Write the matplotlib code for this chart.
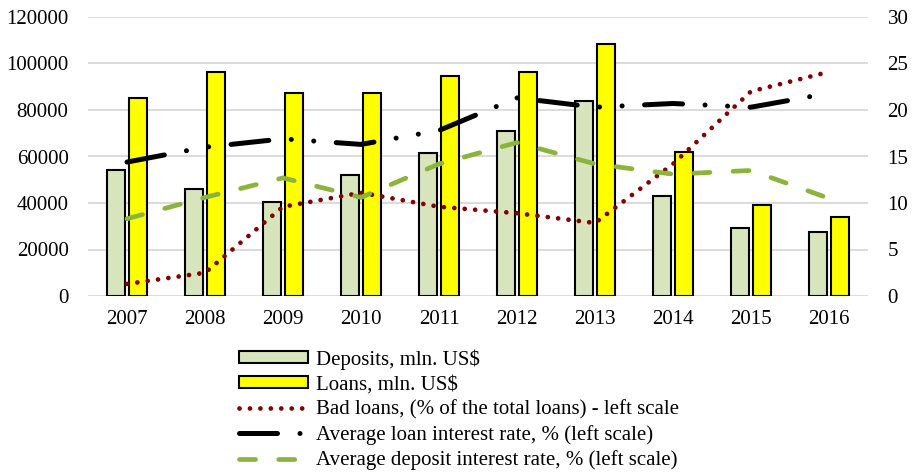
import matplotlib
matplotlib.use("Agg")
import matplotlib.pyplot as plt
import numpy as np

years = ["2007", "2008", "2009", "2010", "2011", "2012", "2013", "2014", "2015", "2016"]
deposits = [54400, 46200, 40500, 52200, 61500, 70800, 83800, 42800, 29200, 27700]
loans = [85000, 96300, 87300, 87300, 94500, 96300, 108400, 62100, 39000, 33800]
bad_loans = [1.3, 2.5, 9.6, 11.1, 9.6, 8.9, 7.85, 14.2, 22.0, 24.1]
loan_rate = [14.4, 16.0, 16.9, 16.3, 17.8, 21.3, 20.3, 20.7, 20.3, 21.8]
deposit_rate = [8.3, 10.6, 12.7, 10.6, 14.2, 16.5, 14.2, 13.1, 13.5, 10.5]

left_ticks = [0, 20000, 40000, 60000, 80000, 100000, 120000]
right_ticks = [0, 5, 10, 15, 20, 25, 30]

labels = ["Deposits, mln. US$", "Loans, mln. US$",
          "Bad loans, (% of the total loans) - left scale",
          "Average loan interest rate, % (left scale)",
          "Average deposit interest rate, % (left scale)"]

plt.rcParams['font.family'] = ['Liberation Serif', 'DejaVu Serif']
FS = 15

fig = plt.figure(figsize=(9.15, 4.72), dpi=100)
ax = fig.add_axes([88/915, 1-296/472, 780/915, 279/472])
x = np.arange(len(years))
bw = 0.227
gap = 0.055
b1 = ax.bar(x - (bw+gap)/2, deposits, bw, color='#D8E4BC', edgecolor='black', linewidth=1.5, zorder=2)
b2 = ax.bar(x + (bw+gap)/2, loans, bw, color='#FFFF00', edgecolor='black', linewidth=1.5, zorder=2)
ax.set_ylim(0, 120000)
ax.set_xlim(-0.5, len(years)-0.5)
ax.set_yticks(left_ticks)
ax.set_xticks(x)
ax.set_xticklabels(years)
ax.yaxis.grid(True, color='#D9D9D9', linewidth=1.3, zorder=0)
ax.set_axisbelow(True)
for s in ax.spines.values():
    s.set_visible(False)
ax.tick_params(axis='y', length=0, pad=14, labelsize=FS)
ax.tick_params(axis='x', length=0, pad=10, labelsize=FS)

ax2 = ax.twinx()
ax2.set_ylim(0, 30)
ax2.set_yticks(right_ticks)
for s in ax2.spines.values():
    s.set_visible(False)
ax2.tick_params(axis='y', length=0, pad=14, labelsize=FS)

l1, = ax2.plot(x, bad_loans, color='#800000', linewidth=3.4, linestyle=(0, (0.01, 2.2)),
               dash_capstyle='round', solid_capstyle='round')
l2, = ax2.plot(x, loan_rate, color='black', linewidth=3.6,
               linestyle=(0, (7.6, 4.5, 0.01, 4.5, 0.01, 4.5)),
               dash_capstyle='round')
l3, = ax2.plot(x, deposit_rate, color='#8CB43C', linewidth=3.4,
               linestyle=(0, (3.4, 4.9)), dash_capstyle='round')

leg = fig.legend([b1, b2, l1, l2, l3], labels, loc='upper left',
                 bbox_to_anchor=(239/915, 1-349/472), frameon=False,
                 fontsize=FS, handlelength=3.3, handleheight=0.5, handletextpad=0.4,
                 labelspacing=0.27, borderpad=0, borderaxespad=0)

fig.savefig("out.png", dpi=100)
